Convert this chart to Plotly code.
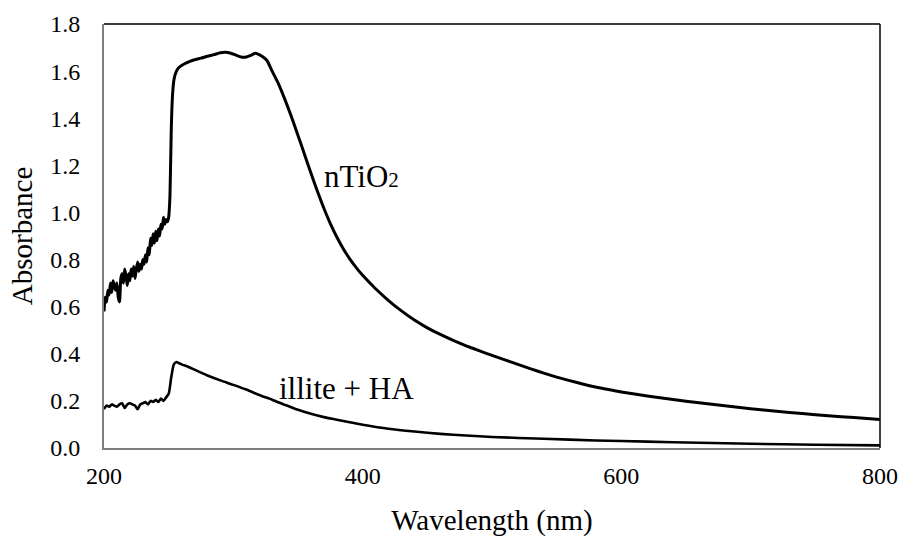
import plotly.graph_objects as go

# nTiO2 spectrum
ntio2_wl = [200,201,202,203,204,205,206,207,208,209,210,211,212,213,214,215,216,217,218,219,
            220,221,222,223,224,225,226,227,228,229,230,231,232,233,234,235,236,237,238,239,
            240,241,242,243,244,245,246,247,248,249,250,251,252,253,254,255,257,259,262,266,
            270,275,280,285,290,294,298,302,306,310,314,317,320,323,326,330,335,340,345,350,
            355,360,365,370,375,380,385,390,395,400,410,420,430,440,450,460,470,480,490,500,
            510,520,530,540,550,560,570,580,590,600,620,640,660,680,700,720,740,760,780,800]
ntio2_abs = [0.58,0.64,0.62,0.67,0.65,0.70,0.66,0.71,0.69,0.67,0.70,0.64,0.62,0.72,0.74,0.70,0.76,0.73,0.69,0.74,
             0.71,0.76,0.73,0.77,0.72,0.76,0.79,0.75,0.78,0.76,0.80,0.78,0.82,0.79,0.85,0.82,0.89,0.86,0.91,0.87,
             0.92,0.88,0.93,0.90,0.95,0.93,0.98,0.95,0.97,0.96,0.98,1.07,1.35,1.50,1.56,1.585,1.61,1.62,1.63,1.64,
             1.648,1.655,1.663,1.670,1.678,1.680,1.676,1.668,1.660,1.660,1.668,1.676,1.670,1.660,1.645,1.600,1.545,1.478,1.405,1.327,
             1.247,1.167,1.090,1.018,0.953,0.896,0.846,0.803,0.766,0.733,0.676,0.626,0.582,0.543,0.510,0.482,0.457,0.434,0.413,0.393,
             0.374,0.355,0.336,0.318,0.301,0.286,0.272,0.259,0.248,0.238,0.221,0.206,0.192,0.179,0.167,0.156,0.146,0.137,0.129,0.121]

# illite + HA spectrum
illite_wl = [200,202,204,206,208,210,212,214,216,218,220,222,224,226,228,230,232,234,236,238,
             240,242,244,246,248,250,252,254,256,258,260,265,270,275,280,290,300,310,320,330,
             340,350,360,370,380,390,400,420,440,460,480,500,540,580,620,660,700,750,800]
illite_abs = [0.165,0.18,0.175,0.185,0.18,0.175,0.185,0.19,0.17,0.185,0.19,0.185,0.18,0.165,0.185,0.19,0.195,0.185,0.20,0.195,
              0.205,0.195,0.21,0.20,0.215,0.23,0.30,0.355,0.365,0.36,0.355,0.345,0.333,0.32,0.308,0.287,0.268,0.248,0.225,0.205,
              0.183,0.162,0.145,0.131,0.12,0.109,0.099,0.082,0.070,0.060,0.053,0.047,0.039,0.032,0.027,0.022,0.018,0.014,0.011]

x_ticks = [200, 400, 600, 800]
y_ticks = [0.0, 0.2, 0.4, 0.6, 0.8, 1.0, 1.2, 1.4, 1.6, 1.8]

FONT = "serif"

fig = go.Figure()
fig.add_trace(go.Scatter(x=ntio2_wl, y=ntio2_abs, mode="lines", name="nTiO2",
                         line=dict(color="black", width=3, shape="spline", smoothing=0.6)))
fig.add_trace(go.Scatter(x=illite_wl, y=illite_abs, mode="lines", name="illite + HA",
                         line=dict(color="black", width=2.6, shape="spline", smoothing=0.6)))

fig.add_annotation(x=368.3, y=1.154, xref="x", yref="y", xanchor="left", yanchor="middle",
                   text='nTiO<span style="font-size:21px">2</span>', showarrow=False,
                   font=dict(family=FONT, size=31, color="black"))
fig.add_annotation(x=334.0, y=0.253, xref="x", yref="y", xanchor="left", yanchor="middle",
                   text="illite + HA", showarrow=False,
                   font=dict(family=FONT, size=31, color="black"))

# top and right borders of plot area (black)
fig.add_shape(type="line", xref="paper", yref="paper", x0=0, x1=1, y0=1, y1=1,
              line=dict(color="black", width=1.5))
fig.add_shape(type="line", xref="paper", yref="paper", x0=1, x1=1, y0=0, y1=1,
              line=dict(color="black", width=1.5))

fig.update_layout(
    width=902, height=537,
    margin=dict(l=104, r=22, t=24, b=89, autoexpand=False),
    paper_bgcolor="white", plot_bgcolor="white",
    showlegend=False,
    font=dict(family=FONT, color="black"),
    xaxis=dict(range=[200, 800], tickvals=x_ticks, ticktext=[str(v) for v in x_ticks],
               showgrid=False, zeroline=False, showline=True, linecolor="#7f7f7f", linewidth=2,
               ticks="", tickfont=dict(size=24, family=FONT), ticklabelstandoff=5, automargin=False,
               title=dict(text="Wavelength (nm)", font=dict(size=29, family=FONT), standoff=23)),
    yaxis=dict(range=[0, 1.8], tickvals=y_ticks, ticktext=[f"{v:.1f}" for v in y_ticks],
               showgrid=False, zeroline=False, showline=True, linecolor="#7f7f7f", linewidth=2,
               ticks="", tickfont=dict(size=24, family=FONT), ticklabelstandoff=17, automargin=False,
               title=dict(text="Absorbance", font=dict(size=29, family=FONT), standoff=9)),
)

fig.write_html("out.html", config={"displayModeBar": False},
               post_script="document.body.style.margin='0';document.body.style.overflow='hidden';")
